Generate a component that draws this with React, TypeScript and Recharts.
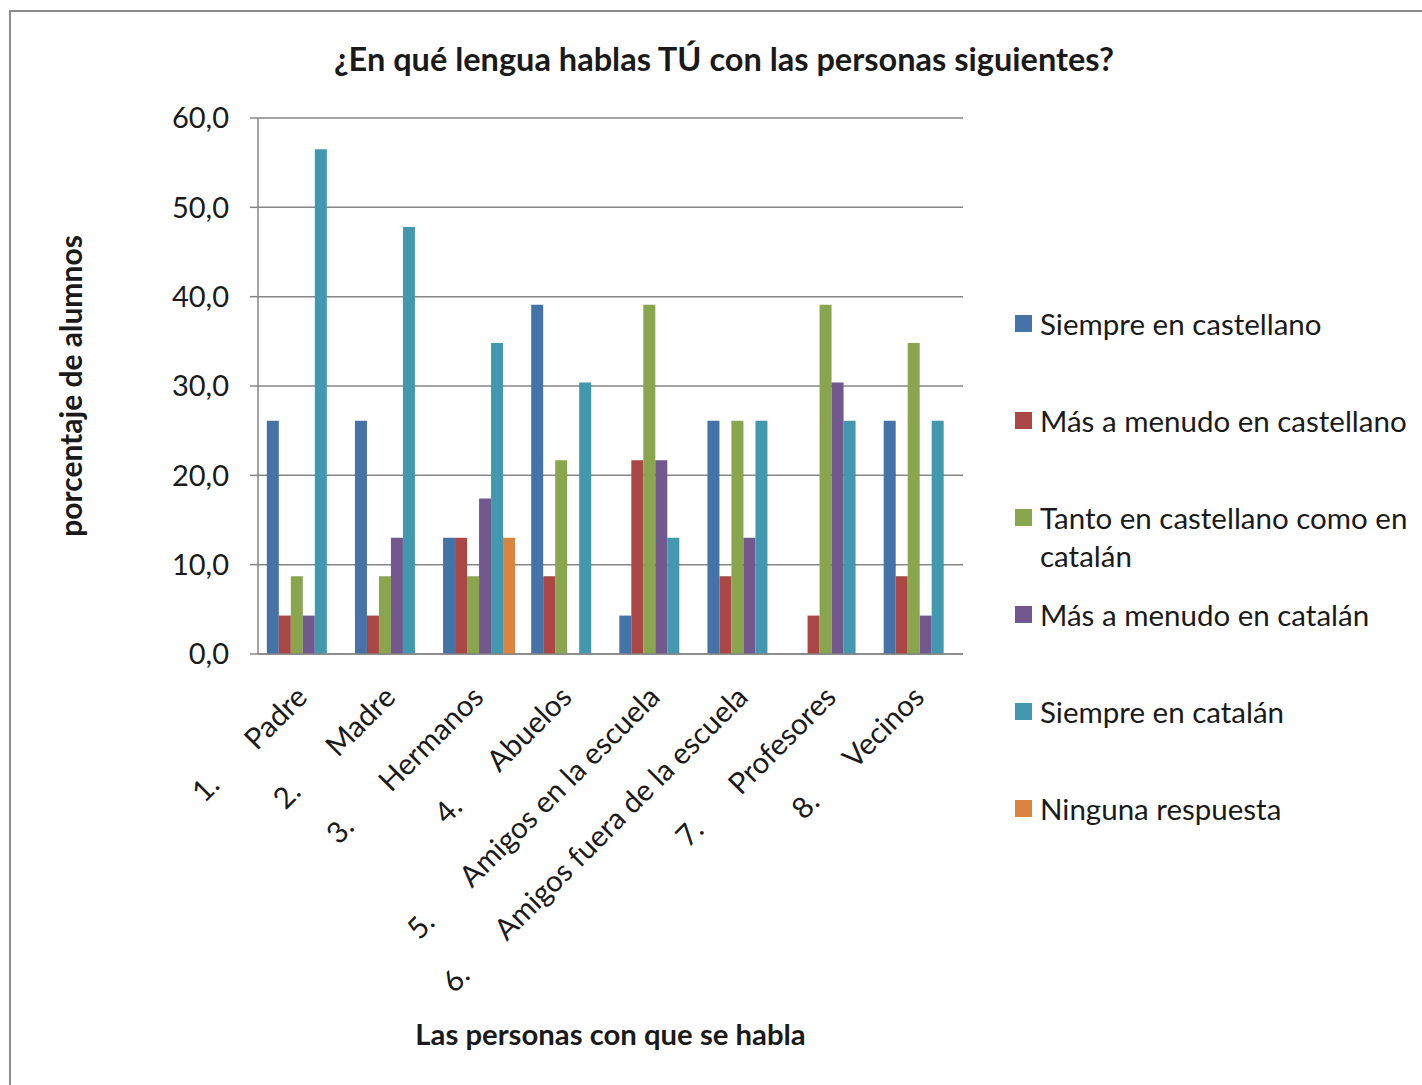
import React from 'react';
import { BarChart, Bar, XAxis, YAxis, CartesianGrid, Legend } from 'recharts';

const FONT = "Lato, 'Open Sans', sans-serif";

const categories = [
  'Padre',
  'Madre',
  'Hermanos',
  'Abuelos',
  'Amigos en la escuela',
  'Amigos fuera de la escuela',
  'Profesores',
  'Vecinos',
];

const siempreCastellano = [26.1, 26.1, 13.0, 39.1, 4.3, 26.1, 0, 26.1];
const masCastellano = [4.3, 4.3, 13.0, 8.7, 21.7, 8.7, 4.3, 8.7];
const tantoComo = [8.7, 8.7, 8.7, 21.7, 39.1, 26.1, 39.1, 34.8];
const masCatalan = [4.3, 13.0, 17.4, 0, 21.7, 13.0, 30.4, 4.3];
const siempreCatalan = [56.5, 47.8, 34.8, 30.4, 13.0, 26.1, 26.1, 26.1];
const ninguna = [0, 0, 13.0, 0, 0, 0, 0, 0];

const seriesNames = [
  'Siempre en castellano',
  'Más a menudo en castellano',
  'Tanto en castellano como en catalán',
  'Más a menudo en catalán',
  'Siempre en catalán',
  'Ninguna respuesta',
];
const seriesColors = ['#4572A7', '#AA4643', '#89A54E', '#71588F', '#4198AF', '#DB843D'];
const seriesValues = [siempreCastellano, masCastellano, tantoComo, masCatalan, siempreCatalan, ninguna];

const yTicks = [0, 10, 20, 30, 40, 50, 60];

const title = '¿En qué lengua hablas TÚ con las personas siguientes?';
const yTitle = 'porcentaje de alumnos';
const xTitle = 'Las personas con que se habla';

const data = categories.map((name, i) => {
  const row: Record<string, any> = { name };
  seriesValues.forEach((vals, s) => {
    row['s' + s] = vals[i];
  });
  return row;
});

const GRID = '#868686';
const TEXT = '#1a1a1a';

const XTick = (props: any) => {
  const { x, y, payload, index } = props;
  const ax = x + 7;
  const ay = y + 45;
  return (
    <text
      x={ax}
      y={ay}
      transform={`rotate(-45 ${ax} ${ay})`}
      textAnchor="end"
      fontFamily={FONT}
      fontSize={29.5}
      fill={TEXT}
    >
      <tspan>{`${index + 1}.`}</tspan>
      <tspan dx={50}>{payload.value}</tspan>
    </text>
  );
};

const YLabel = (props: any) => {
  const { viewBox } = props;
  const cx = viewBox.x + 70;
  const cy = viewBox.y + viewBox.height / 2;
  return (
    <text
      x={cx}
      y={cy}
      transform={`rotate(-90 ${cx} ${cy})`}
      textAnchor="middle"
      dominantBaseline="central"
      fontFamily={FONT}
      fontWeight="bold"
      fontSize={30}
      fill={TEXT}
    >
      {yTitle}
    </text>
  );
};

const XLabel = (props: any) => {
  const { viewBox } = props;
  const cx = viewBox.x + viewBox.width / 2;
  const cy = 1033;
  return (
    <text
      x={cx}
      y={cy}
      textAnchor="middle"
      dominantBaseline="central"
      fontFamily={FONT}
      fontWeight="bold"
      fontSize={29.3}
      fill={TEXT}
    >
      {xTitle}
    </text>
  );
};

const LegendContent = (props: any) => {
  const payload = [...(props.payload || [])].sort(
    (a: any, b: any) => seriesNames.indexOf(a.value) - seriesNames.indexOf(b.value)
  );
  return (
    <div style={{ position: 'relative', width: 414, height: 560, fontFamily: FONT }}>
      {payload.map((item: any, i: number) => (
        <div
          key={item.value}
          style={{
            position: 'absolute',
            left: 0,
            top: i * 97,
            display: 'flex',
            alignItems: 'flex-start',
          }}
        >
          <div
            style={{
              width: 17,
              height: 17,
              background: item.color,
              marginTop: 10,
              marginRight: 8,
              flex: 'none',
            }}
          />
          <div
            style={{
              width: 380,
              fontSize: 29.5,
              lineHeight: '38px',
              color: TEXT,
            }}
          >
            {item.value}
          </div>
        </div>
      ))}
    </div>
  );
};

export default function App() {
  return (
    <div
      style={{
        position: 'absolute',
        left: 0,
        top: 0,
        width: 1422,
        height: 1085,
        overflow: 'hidden',
        background: '#fff',
      }}
    >
      <div
        style={{
          position: 'absolute',
          left: 9,
          top: 10,
          width: 1440,
          height: 1100,
          border: '2px solid #8c8c8c',
          boxSizing: 'border-box',
        }}
      />
      <div
        style={{
          position: 'absolute',
          left: 0,
          width: 1448,
          top: 39,
          textAlign: 'center',
          fontFamily: FONT,
          fontWeight: 'bold',
          fontSize: 32.5,
          lineHeight: '40px',
          color: TEXT,
        }}
      >
        {title}
      </div>
      <div style={{ position: 'absolute', left: 0, top: 0 }}>
        <BarChart
          width={1422}
          height={1085}
          data={data}
          margin={{ top: 118, right: 459, bottom: 31, left: 0 }}
          barCategoryGap="10%"
          barGap={0}
        >
          <CartesianGrid vertical={false} stroke={GRID} strokeWidth={1.5} />
          <XAxis
            dataKey="name"
            interval={0}
            tickLine={false}
            tickSize={0}
            tickMargin={0}
            height={400}
            axisLine={{ stroke: GRID, strokeWidth: 1.5 }}
            tick={<XTick />}
            label={<XLabel />}
          />
          <YAxis
            width={258}
            domain={[0, 60]}
            ticks={yTicks}
            interval={0}
            tickSize={8}
            tickMargin={21}
            tickLine={{ stroke: GRID, strokeWidth: 1.5 }}
            axisLine={{ stroke: GRID, strokeWidth: 1.5 }}
            tickFormatter={(v: number) => v.toFixed(1).replace('.', ',')}
            tick={{ fontFamily: FONT, fontSize: 29, fill: TEXT }}
            label={<YLabel />}
          />
          <Legend
            layout="vertical"
            align="center"
            verticalAlign="middle"
            content={<LegendContent />}
            wrapperStyle={{ left: 1015, top: 305, width: 414, right: 'auto', bottom: 'auto' }}
          />
          {seriesNames.map((n, s) => (
            <Bar
              key={n}
              dataKey={'s' + s}
              name={n}
              fill={seriesColors[s]}
              isAnimationActive={false}
            />
          ))}
        </BarChart>
      </div>
    </div>
  );
}
